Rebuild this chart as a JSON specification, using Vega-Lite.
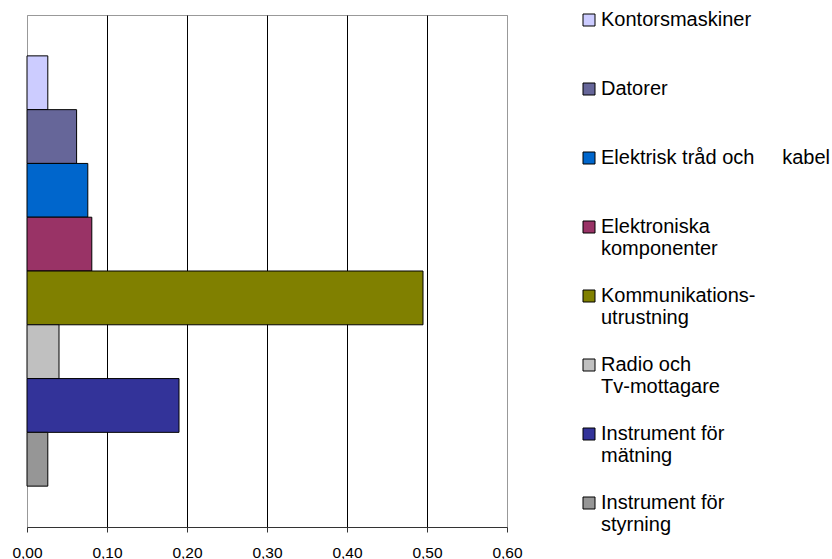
{
  "$schema": "https://vega.github.io/schema/vega-lite/v6.json",
  "width": 480,
  "height": 512,
  "autosize": {"type": "none"},
  "padding": {"left": 27, "top": 15, "right": 325, "bottom": 32},
  "background": "white",
  "config": {
    "view": {"stroke": "#999999", "strokeWidth": 1},
    "font": "Liberation Sans"
  },
  "data": {
    "values": [
      {"category": "Kontorsmaskiner", "value": 0.026},
      {"category": "Datorer", "value": 0.062},
      {"category": "Elektrisk tråd och kabel", "value": 0.076},
      {"category": "Elektroniska komponenter", "value": 0.081},
      {"category": "Kommunikationsutrustning", "value": 0.495},
      {"category": "Radio och Tv-mottagare", "value": 0.040},
      {"category": "Instrument för mätning", "value": 0.190},
      {"category": "Instrument för styrning", "value": 0.026}
    ]
  },
  "mark": {"type": "bar", "stroke": "black", "strokeWidth": 1},
  "encoding": {
    "y": {
      "field": "category",
      "type": "nominal",
      "sort": null,
      "axis": null,
      "scale": {"paddingInner": 0, "paddingOuter": 0.76}
    },
    "x": {
      "field": "value",
      "type": "quantitative",
      "scale": {"domain": [0, 0.6], "nice": false, "zero": true},
      "axis": {
        "values": [0, 0.1, 0.2, 0.3, 0.4, 0.5, 0.6],
        "title": null,
        "grid": true,
        "gridColor": {"condition": {"test": "datum.value == 0 || datum.value == 0.6", "value": "#999999"}, "value": "black"},
        "gridWidth": 1,
        "domainColor": "#333333",
        "tickColor": "#333333",
        "tickSize": 5,
        "labelFontSize": 15.5,
        "labelFont": "Liberation Sans",
        "labelColor": "black",
        "labelPadding": 13,
        "labelFlush": false,
        "labelExpr": "replace(format(datum.value, '.2f'), '.', ',')"
      }
    },
    "color": {
      "field": "category",
      "type": "nominal",
      "sort": null,
      "scale": {
        "domain": ["Kontorsmaskiner", "Datorer", "Elektrisk tråd och kabel", "Elektroniska komponenter", "Kommunikationsutrustning", "Radio och Tv-mottagare", "Instrument för mätning", "Instrument för styrning"],
        "range": ["#CCCCFF", "#666699", "#0066CC", "#993366", "#808000", "#C0C0C0", "#333399", "#969696"]
      },
      "legend": {
        "orient": "none",
        "legendX": 552,
        "legendY": -5,
        "title": null,
        "padding": 0,
        "symbolType": "square",
        "symbolSize": 144,
        "symbolStrokeColor": "black",
        "symbolStrokeWidth": 1,
        "symbolOpacity": 1,
        "labelFontSize": 20,
        "labelFont": "Liberation Sans",
        "labelColor": "black",
        "labelBaseline": "middle",
        "labelLineHeight": 23,
        "labelOffset": 2,
        "labelLimit": 0,
        "rowPadding": 5,
        "labelExpr": "datum.label == 'Elektrisk tråd och kabel' ? ['Elektrisk tråd och\u00a0\u00a0\u00a0\u00a0\u00a0kabel', '', ''] : datum.label == 'Elektroniska komponenter' ? ['Elektroniska', 'komponenter', ''] : datum.label == 'Kommunikationsutrustning' ? ['Kommunikations-', 'utrustning', ''] : datum.label == 'Radio och Tv-mottagare' ? ['Radio och', 'Tv-mottagare', ''] : datum.label == 'Instrument för mätning' ? ['Instrument för', 'mätning', ''] : datum.label == 'Instrument för styrning' ? ['Instrument för', 'styrning', ''] : [datum.label, '', '']"
      }
    }
  }
}
